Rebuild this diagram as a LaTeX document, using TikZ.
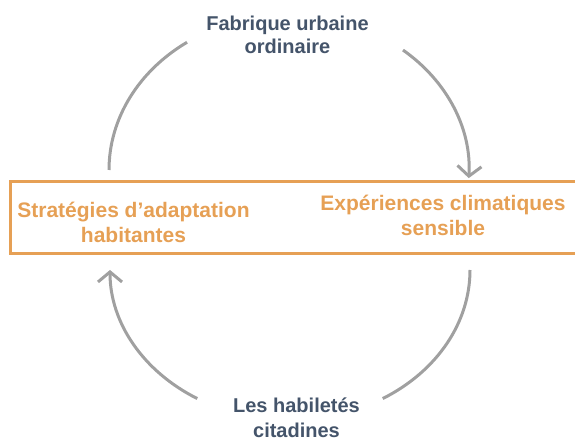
\documentclass[tikz,border=0pt]{standalone}
\usepackage{fontspec}
\setmainfont{Liberation Sans}
\usetikzlibrary{arrows.meta}
\definecolor{darktxt}{HTML}{44546A}
\definecolor{orangec}{HTML}{E6A055}
\definecolor{arcgray}{HTML}{A0A0A0}
\tikzset{
  darklabel/.style={align=center, inner sep=0pt, text=darktxt, font=\bfseries\fontsize{20}{23}\selectfont},
  orangelabel/.style={align=center, inner sep=0pt, text=orangec, font=\bfseries\fontsize{21}{25}\selectfont},
  cyclearc/.style={draw=arcgray, line width=3pt},
  cycletip/.style={-{Straight Barb[length=10pt,width=24pt]}},
  band/.style={draw=orangec, line width=3pt}
}
\begin{document}
\begin{tikzpicture}[x=1pt,y=1pt]
\useasboundingbox (0,0) rectangle (575,441);
\clip (0,0) rectangle (575,441);
% band
\draw[band] (10,259) rectangle (590,187);
% labels (anchor=base is the baseline of the last line)
\node[darklabel, anchor=base] (fab) at (287.5,387.5) {Fabrique urbaine\\ordinaire};
\node[darklabel, anchor=base, font=\bfseries\fontsize{20}{24.5}\selectfont] (hab) at (296.5,3.5) {Les habiletés\\citadines};
\node[orangelabel, anchor=base] (strat) at (133.5,198.5) {Stratégies d’adaptation\\habitantes};
\node[orangelabel, anchor=base] (exp) at (443,205.5) {Expériences climatiques\\sensible};
% arc end points
\coordinate (a1) at (109,271);
\coordinate (a2) at ({289+180*cos(50.7)},{271+155*sin(50.7)});
\coordinate (b1) at (470,171);
\coordinate (b2) at ({290+180*cos(-121)},{171+150*sin(-121)});
% arcs
\draw[cyclearc] (a1) arc[start angle=180, end angle=124.5, x radius=180, y radius=155];
\draw[cyclearc, cycletip] (a2) arc[start angle=50.7, end angle=-3, x radius=180, y radius=155];
\draw[cyclearc] (b1) arc[start angle=0, end angle=-59, x radius=180, y radius=150];
\draw[cyclearc, cycletip] (b2) arc[start angle=-121, end angle=-180, x radius=180, y radius=150];
\end{tikzpicture}
\end{document}
